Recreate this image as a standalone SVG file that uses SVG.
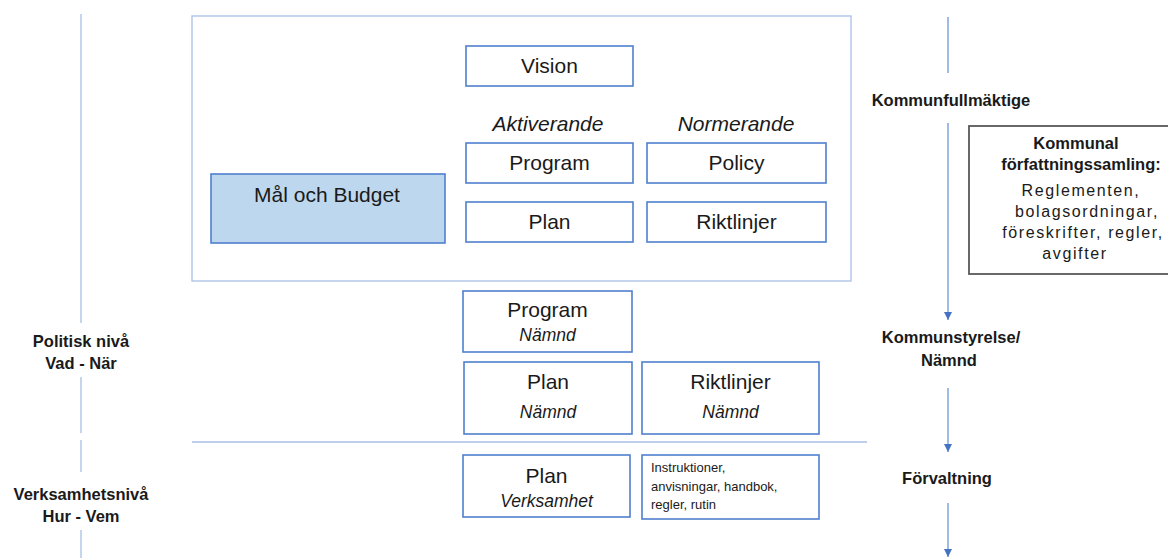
<svg xmlns="http://www.w3.org/2000/svg" width="1168" height="558" viewBox="0 0 1168 558">
<style>
  .bg{fill:#ffffff}
  .thin{stroke:#A9BFE6;stroke-width:1.3;fill:none}
  .box{fill:#ffffff;stroke:#4F7FCF;stroke-width:1.6}
  .fill{fill:#BDD7EE;stroke:#4F7FCF;stroke-width:1.6}
  .gray{fill:#ffffff;stroke:#595959;stroke-width:1.8}
  .arrowline{stroke:#6E95D8;stroke-width:1.3;fill:none}
  text{font-family:"Liberation Sans",Arial,sans-serif;fill:#1a1a1a}
  .t{font-size:21px;text-anchor:middle}
  .i{font-size:21px;font-style:italic;text-anchor:middle}
  .si{font-size:17.5px;font-style:italic;text-anchor:middle}
  .b{font-size:16.5px;font-weight:bold;text-anchor:middle}
  .ls{font-size:16px;letter-spacing:1.6px;text-anchor:middle}
  .sm{font-size:13px}
</style>
<defs>
  <marker id="ah" markerWidth="8" markerHeight="8" refX="8" refY="4" orient="auto" markerUnits="userSpaceOnUse" viewBox="0 0 8 8">
    <path d="M0,0 L8,4 L0,8 Z" fill="#4472C4"/>
  </marker>
</defs>
<rect class="bg" x="0" y="0" width="1168" height="558"/>

<g id="connectors">
  <path class="thin" d="M81,14 V323 M81,377 V433 M81,440 V472 M81,530 V558"/>
  <path class="arrowline" d="M948,17 V73"/>
  <path class="arrowline" d="M948,123 V320" marker-end="url(#ah)"/>
  <path class="arrowline" d="M948,388 V452" marker-end="url(#ah)"/>
  <path class="arrowline" d="M948,503 V557" marker-end="url(#ah)"/>
  <path class="thin" d="M192,442 H867"/>
</g>

<g id="frame">
  <rect class="thin" x="192" y="16" width="659" height="265"/>
</g>

<g id="vision">
  <rect class="box" x="466" y="46" width="167" height="40"/>
  <text class="t" x="549.5" y="73">Vision</text>
</g>

<g id="aktiverande">
  <text class="i" x="548" y="131">Aktiverande</text>
</g>
<g id="normerande">
  <text class="i" x="736" y="131">Normerande</text>
</g>

<g id="program">
  <rect class="box" x="466" y="143" width="167" height="40"/>
  <text class="t" x="549.5" y="170">Program</text>
</g>
<g id="policy">
  <rect class="box" x="647" y="143" width="179" height="40"/>
  <text class="t" x="736.5" y="170">Policy</text>
</g>
<g id="plan">
  <rect class="box" x="466" y="202" width="167" height="40"/>
  <text class="t" x="549.5" y="229">Plan</text>
</g>
<g id="riktlinjer">
  <rect class="box" x="647" y="202" width="179" height="40"/>
  <text class="t" x="736.5" y="229">Riktlinjer</text>
</g>

<g id="mal-och-budget">
  <rect class="fill" x="211" y="174" width="234" height="69"/>
  <text class="t" x="327" y="202">Mål och Budget</text>
</g>

<g id="program-namnd">
  <rect class="box" x="463" y="291" width="169" height="61"/>
  <text class="t" x="547.5" y="317">Program</text>
  <text class="si" x="547.5" y="341">Nämnd</text>
</g>
<g id="plan-namnd">
  <rect class="box" x="464" y="362" width="168" height="72"/>
  <text class="t" x="548" y="389">Plan</text>
  <text class="si" x="548" y="418">Nämnd</text>
</g>
<g id="riktlinjer-namnd">
  <rect class="box" x="642" y="362" width="177" height="72"/>
  <text class="t" x="730.5" y="389">Riktlinjer</text>
  <text class="si" x="730.5" y="418">Nämnd</text>
</g>

<g id="plan-verksamhet">
  <rect class="box" x="463" y="455" width="167" height="62"/>
  <text class="t" x="546.5" y="483">Plan</text>
  <text class="si" x="546.5" y="507">Verksamhet</text>
</g>
<g id="instruktioner">
  <rect class="box" x="642" y="455" width="177" height="64"/>
  <text class="sm" x="651" y="472">Instruktioner,</text>
  <text class="sm" x="651" y="491">anvisningar, handbok,</text>
  <text class="sm" x="651" y="509">regler, rutin</text>
</g>

<g id="kommunal-forfattningssamling">
  <rect class="gray" x="969" y="126" width="215" height="148"/>
  <text class="b" x="1076" y="149">Kommunal</text>
  <text class="b" x="1081" y="170">författningssamling:</text>
  <text class="ls" x="1081" y="196">Reglementen,</text>
  <text class="ls" x="1087" y="217">bolagsordningar,</text>
  <text class="ls" x="1083" y="238">föreskrifter, regler,</text>
  <text class="ls" x="1075" y="259">avgifter</text>
</g>

<g id="label-kommunfullmaktige">
  <text class="b" x="951" y="106">Kommunfullmäktige</text>
</g>
<g id="label-kommunstyrelse">
  <text class="b" x="951" y="343">Kommunstyrelse/</text>
  <text class="b" x="949" y="366">Nämnd</text>
</g>
<g id="label-forvaltning">
  <text class="b" x="947" y="484">Förvaltning</text>
</g>

<g id="label-politisk">
  <text class="b" x="81" y="347">Politisk nivå</text>
  <text class="b" x="81" y="369">Vad - När</text>
</g>
<g id="label-verksamhet">
  <text class="b" x="81" y="500">Verksamhetsnivå</text>
  <text class="b" x="81" y="522">Hur - Vem</text>
</g>
</svg>
